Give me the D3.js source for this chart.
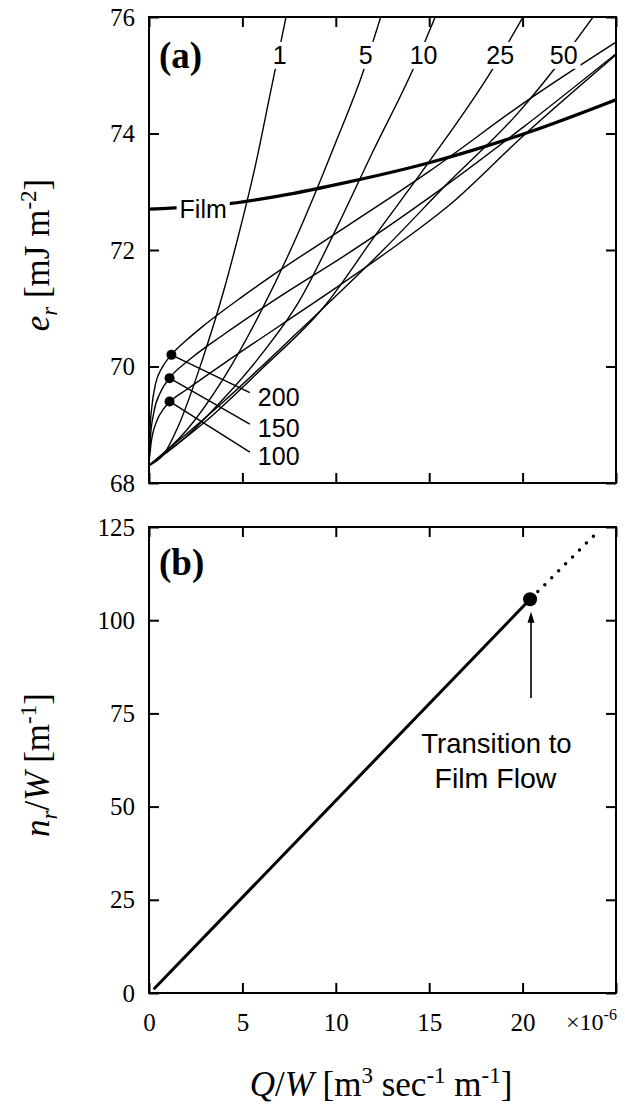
<!DOCTYPE html>
<html>
<head>
<meta charset="utf-8">
<script src="https://cdn.jsdelivr.net/npm/d3@7"></script>
<style>
  body { margin: 0; background: #fff; }
  svg { display: block; }
</style>
</head>
<body>
<script>
// values, x in units of 1e-6 m^3 sec^-1 m^-1
const line1  = [[0,68.3],[0.8,68.5],[1.6,69.0],[2.84,70.1],[4,71.3],[4.71,72.15],[5.73,73.5],[6.5,74.7],[7.4,76.1]];
const line5  = [[0,68.3],[2,68.9],[4,69.8],[6,70.95],[8,72.3],[10,73.85],[11.4,75.0],[12.5,76.1]];
const line10 = [[0,68.3],[2,68.8],[4,69.45],[6,70.2],[8,71.1],[10,72.35],[12,73.7],[14.13,75.1],[15.45,76.1]];
const line25 = [[0,68.3],[3,69.05],[6,69.95],[9.3,71.0],[12.2,72.29],[14.94,73.49],[18.42,75.12],[20.2,76.1]];
const line50 = [[0,68.3],[4,69.4],[8,70.6],[12.63,72.03],[16,73.15],[19.75,74.35],[21.73,75.12],[24.0,76.1]];
const curve200 = [[0,68.35],[0.05,68.9],[0.15,69.3],[0.35,69.7],[0.7,69.98],[1.2,70.2],[2,70.45],[3,70.72],[5,71.2],[7,71.65],[10.7,72.43],[15,73.35],[20.4,74.6],[25,75.57]];
const curve150 = [[0,68.35],[0.08,68.8],[0.25,69.2],[0.6,69.55],[1.1,69.8],[2.14,70.11],[4,70.55],[7,71.2],[10.7,71.95],[15,72.9],[20,74.1],[25,75.37]];
const curve100 = [[0,68.35],[0.12,68.7],[0.4,69.05],[0.8,69.28],[1.1,69.39],[2,69.6],[4,70.05],[7,70.7],[10,71.35],[12.9,72.0],[16,72.75],[20,73.95],[25,75.35]];
const film = [[0,72.7],[4.4,72.8],[7,72.93],[10.7,73.17],[14.9,73.49],[20.4,74.03],[25,74.58]];

const thinCurves = [line1, line5, line10, line25, line50, curve200, curve150, curve100];
const topLabels = ['1', '5', '10', '25', '50'];
const topLabelX = [7.0, 11.6, 14.7, 18.8, 22.2];
const topLabelY = [75.35, 75.35, 75.35, 75.35, 75.35];

const dotLabels = ['200', '150', '100'];
const dotPts = [[1.2,70.2],[1.1,69.8],[1.1,69.4]];
const leaderEnds = [[5.4,69.55],[5.4,69.01],[5.4,68.53]];

// panel (b)
const riv = [[0.25,1.0],[20.4,105.6]];
const rivDotted = [[20.4,105.6],[24.0,123.6]];
const transition = [20.4,105.6];

const xTicks = [0,5,10,15,20,25];
const xLabels = [0,5,10,15,20];
const yTicksA = [68,70,72,74,76];
const yTicksB = [0,25,50,75,100,125];

const W = 625, H = 1108;
const left = 149, right = 616;

const svg = d3.select('body').append('svg')
    .attr('width', W)
    .attr('height', H);

const x = d3.scaleLinear().domain([0,25]).range([left,right]);
const yA = d3.scaleLinear().domain([68,76]).range([483,17]);
const yB = d3.scaleLinear().domain([0,125]).range([993,527]);

const serif = "'Liberation Serif','Times New Roman',serif";
const sans = "'Liberation Sans',Arial,Helvetica,sans-serif";

// clip for the curves
svg.append('clipPath').attr('id','clipA')
    .append('rect').attr('x', left).attr('y', 17).attr('width', right-left).attr('height', 466);

function frame(y, ticksY, showX) {
    const g = svg.append('g');
    const yr = y.range();
    g.append('rect')
        .attr('x', left).attr('y', yr[1])
        .attr('width', right-left).attr('height', yr[0]-yr[1])
        .attr('fill','none').attr('stroke','#000').attr('stroke-width',2);

    const ax = [
        g.append('g').attr('transform',`translate(${left},0)`)
            .call(d3.axisLeft(y).tickValues(ticksY).tickSize(-10).tickPadding(14)),
        g.append('g').attr('transform',`translate(${right},0)`)
            .call(d3.axisRight(y).tickValues(ticksY).tickSize(-10).tickFormat('')),
        g.append('g').attr('transform',`translate(0,${yr[1]})`)
            .call(d3.axisTop(x).tickValues(xTicks).tickSize(-10).tickFormat('')),
        g.append('g').attr('transform',`translate(0,${yr[0]})`)
            .call(d3.axisBottom(x).tickValues(xTicks).tickSize(-10).tickPadding(20)
                .tickFormat(d => showX && xLabels.includes(d) ? d : ''))
    ];
    ax.forEach(a => {
        a.select('.domain').remove();
        a.selectAll('line').attr('stroke-width',2);
        a.selectAll('text').style('font-family', serif).style('font-size','25px').attr('fill','#000');
    });
}

frame(yA, yTicksA, false);
frame(yB, yTicksB, true);

// ---- panel (a)
const lineA = d3.line().x(d => x(d[0])).y(d => yA(d[1])).curve(d3.curveMonotoneX);
const gA = svg.append('g').attr('clip-path','url(#clipA)');

gA.selectAll('path.thin')
    .data(thinCurves)
    .enter().append('path')
    .attr('class','thin')
    .attr('d', lineA)
    .attr('fill','none')
    .attr('stroke','#000')
    .attr('stroke-width',1.4);

gA.append('path')
    .attr('d', lineA(film))
    .attr('fill','none')
    .attr('stroke','#000')
    .attr('stroke-width',3.2);

// labels with white boxes so the lines break behind them
function boxedLabel(tx, ty, txt) {
    const g = svg.append('g');
    const t = g.append('text')
        .attr('x', tx).attr('y', ty)
        .attr('dy','0.36em')
        .attr('text-anchor','middle')
        .style('font-family', sans)
        .style('font-size','25px')
        .text(txt);
    const bb = t.node().getBBox();
    g.insert('rect','text')
        .attr('x', bb.x-3).attr('y', bb.y+1)
        .attr('width', bb.width+6).attr('height', bb.height-1)
        .attr('fill','#fff');
}
topLabels.forEach((l,i) => boxedLabel(x(topLabelX[i]), yA(topLabelY[i]), l));
boxedLabel(x(2.9), yA(72.7), 'Film');

// dots and leader lines
dotPts.forEach((p,i) => {
    svg.append('line')
        .attr('x1', x(p[0])).attr('y1', yA(p[1]))
        .attr('x2', x(leaderEnds[i][0])).attr('y2', yA(leaderEnds[i][1]))
        .attr('stroke','#000').attr('stroke-width',1.4);
    svg.append('circle')
        .attr('cx', x(p[0])).attr('cy', yA(p[1])).attr('r',5).attr('fill','#000');
    svg.append('text')
        .attr('x', x(leaderEnds[i][0]) + 8).attr('y', yA(leaderEnds[i][1]) + 4)
        .attr('dy','0.36em')
        .style('font-family', sans).style('font-size','25px')
        .text(dotLabels[i]);
});

svg.append('text')
    .attr('x', 159).attr('y', 68)
    .style('font-family', serif).style('font-size','37px').style('font-weight','bold')
    .text('(a)');

// ---- panel (b)
const lineB = d3.line().x(d => x(d[0])).y(d => yB(d[1]));
svg.append('path')
    .attr('d', lineB(riv))
    .attr('fill','none').attr('stroke','#000').attr('stroke-width',3);
svg.append('path')
    .attr('d', lineB(rivDotted))
    .attr('fill','none').attr('stroke','#000').attr('stroke-width',3.5)
    .attr('stroke-linecap','round')
    .attr('stroke-dasharray','0 9.8')
    .attr('stroke-dashoffset', -11);
svg.append('circle')
    .attr('cx', x(transition[0])).attr('cy', yB(transition[1])).attr('r',7).attr('fill','#000');

// arrow
svg.append('line')
    .attr('x1', x(20.45)).attr('y1', yB(79.1))
    .attr('x2', x(20.45)).attr('y2', yB(100))
    .attr('stroke','#000').attr('stroke-width',1.6);
svg.append('path')
    .attr('d', `M${x(20.45)},${yB(102.3)} l-3.5,11 l7,0 z`)
    .attr('fill','#000');

svg.append('text')
    .attr('x', x(18.6)).attr('y', yB(64.4))
    .attr('text-anchor','middle')
    .style('font-family', sans).style('font-size','27.5px')
    .text('Transition to');
svg.append('text')
    .attr('x', x(18.55)).attr('y', yB(55.0))
    .attr('text-anchor','middle')
    .style('font-family', sans).style('font-size','28.5px')
    .text('Film Flow');

svg.append('text')
    .attr('x', 159).attr('y', 575)
    .style('font-family', serif).style('font-size','37px').style('font-weight','bold')
    .text('(b)');

// x10^-6 multiplier
const mult = svg.append('text')
    .attr('x', 566).attr('y', 1030)
    .style('font-family', serif).style('font-size','24px');
mult.append('tspan').text('\u00d710');
mult.append('tspan').attr('dy','-10').style('font-size','16px').text('-6');

// axis titles
const xt = svg.append('text')
    .attr('x', 381).attr('y', 1096)
    .attr('text-anchor','middle')
    .style('font-family', serif).style('font-size','35px');
xt.append('tspan').style('font-style','italic').text('Q');
xt.append('tspan').text('/');
xt.append('tspan').style('font-style','italic').text('W');
xt.append('tspan').text(' [m');
xt.append('tspan').attr('dy','-13').style('font-size','23px').text('3');
xt.append('tspan').attr('dy','13').text(' sec');
xt.append('tspan').attr('dy','-13').style('font-size','23px').text('-1');
xt.append('tspan').attr('dy','13').text(' m');
xt.append('tspan').attr('dy','-13').style('font-size','23px').text('-1');
xt.append('tspan').attr('dy','13').text(']');

// rotated y titles: parts are [text, italic, dy, small]
function yTitle(cy, parts) {
    const t = svg.append('text')
        .attr('transform', `translate(49,${cy}) rotate(-90)`)
        .attr('text-anchor','middle')
        .style('font-family', serif).style('font-size','35px');
    parts.forEach(p => {
        const s = t.append('tspan').text(p[0]);
        if (p[1]) s.style('font-style','italic');
        if (p[2]) s.attr('dy', p[2]);
        if (p[3]) s.style('font-size','23px');
    });
}
yTitle(255, [['e',1,0,0],['r',1,8,1],[' [mJ m',0,-8,0],['-2',0,-13,1],[']',0,13,0]]);
yTitle(765, [['n',1,0,0],['r',1,8,1],['/',0,-8,0],['W',1,0,0],[' [m',0,0,0],['-1',0,-13,1],[']',0,13,0]]);
</script>
</body>
</html>
